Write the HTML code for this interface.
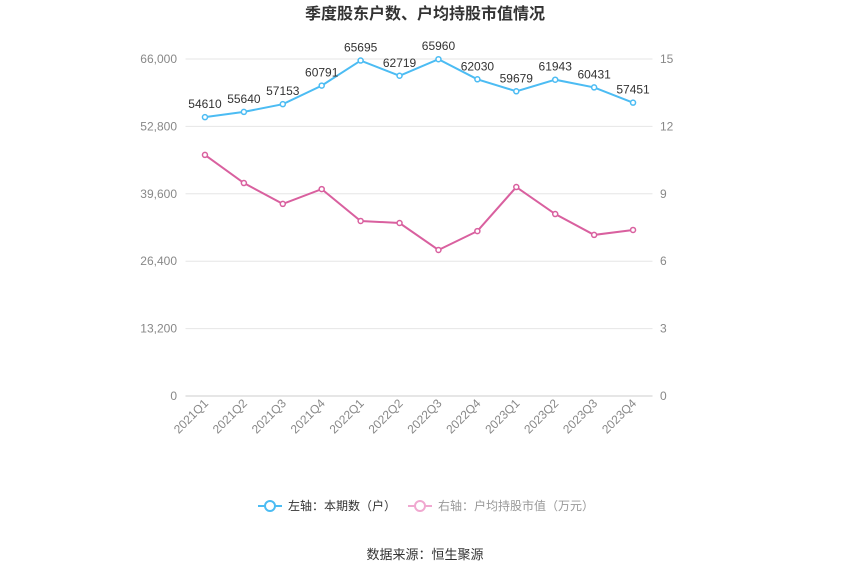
<!DOCTYPE html>
<html><head><meta charset="utf-8"><style>
body{margin:0;background:#fff;font-family:"Liberation Sans","Noto Sans CJK SC",sans-serif;}
</style></head><body>
<svg id="c" width="850" height="575" xmlns="http://www.w3.org/2000/svg" style="font-family:'Liberation Sans','Noto Sans CJK SC',sans-serif">
<text x="425" y="19" text-anchor="middle" font-size="16" font-weight="bold" fill="#333">季度股东户数、户均持股市值情况</text>
<g id="grid"></g><g id="axes"></g><g id="series"></g>
<g>
<g><line x1="258" y1="506" x2="282" y2="506" stroke="#4cbcf3" stroke-width="2"/><circle cx="270" cy="506" r="5" fill="#fff" stroke="#4cbcf3" stroke-width="2"/><text x="288" y="510" font-size="12" fill="#333">左轴：本期数（户）</text></g>
<g><line x1="408" y1="506" x2="432" y2="506" stroke="#f0a8d0" stroke-width="2"/><circle cx="420" cy="506" r="5" fill="#fff" stroke="#f0a8d0" stroke-width="2"/><text x="438" y="510" font-size="12" fill="#999">右轴：户均持股市值（万元）</text></g>
</g>
<text x="425" y="559" text-anchor="middle" font-size="13" fill="#333">数据来源：恒生聚源</text>
</svg>
<script>
const categories=["2021Q1","2021Q2","2021Q3","2021Q4","2022Q1","2022Q2","2022Q3","2022Q4","2023Q1","2023Q2","2023Q3","2023Q4"];
const holders=[54610,55640,57153,60791,65695,62719,65960,62030,59679,61943,60431,57451];
const avgValue=[10.73,9.48,8.55,9.21,7.79,7.70,6.50,7.34,9.30,8.10,7.17,7.39];
const leftTicks=[0,13200,26400,39600,52800,66000];
const rightTicks=[0,3,6,9,12,15];
const NS="http://www.w3.org/2000/svg";
const x0=185.5,x1=652.5,yT=59,yB=396;
const step=(x1-x0)/categories.length;
const xs=i=>x0+step*(i+0.5);
const yL=v=>yB-(v/66000)*(yB-yT);
const yR=v=>yB-(v/15)*(yB-yT);
function mk(t,a,p){const e=document.createElementNS(NS,t);for(const k in a)e.setAttribute(k,a[k]);p.appendChild(e);return e;}
const grid=document.getElementById('grid'),axes=document.getElementById('axes'),ser=document.getElementById('series');
leftTicks.forEach((v,i)=>{
 const l=mk('line',{x1:x0,x2:x1,y1:yL(v),y2:yL(v),stroke:i==0?'#ccc':'#e6e6e6'},grid);
 
 
 const t=mk('text',{x:177,y:yL(v)+4,'text-anchor':'end','font-size':12,fill:'#888'},axes);t.textContent=v.toLocaleString('en-US');
 
 
});
rightTicks.forEach(v=>{
 const t=mk('text',{x:660,y:yR(v)+4,'font-size':12,fill:'#888'},axes);t.textContent=v;
 
 
});
categories.forEach((c,i)=>{
 const x=xs(i);
 const t=mk('text',{x:x+4,y:404,'text-anchor':'end','font-size':12,fill:'#888',transform:`rotate(-45 ${x+4} 404)`},axes);t.textContent=c;
 
 
});
function series(vals,yf,color,name,labels){
 const p=mk('polyline',{points:vals.map((v,i)=>xs(i)+','+yf(v)).join(' '),fill:'none',stroke:color,'stroke-width':2},ser);
 
 
 vals.forEach((v,i)=>{
  const c=mk('circle',{cx:xs(i),cy:yf(v),r:2.5,fill:'#fff',stroke:color,'stroke-width':1.5},ser);
  
  
  if(labels){const t=mk('text',{x:xs(i),y:yf(v)-9,'text-anchor':'middle','font-size':12,fill:'#333'},ser);t.textContent=v;
  
  }
 });
}
series(avgValue,yR,'#d9609f','avg-value',false);
series(holders,yL,'#4cbcf3','holders',true);
</script>
</body></html>
